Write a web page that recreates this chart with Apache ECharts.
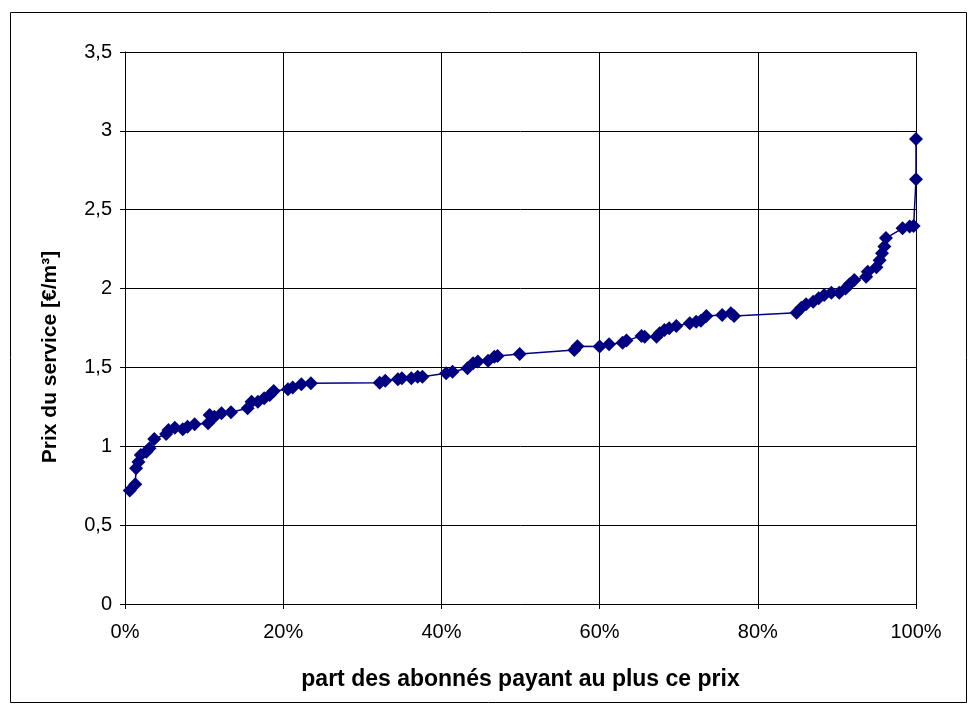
<!DOCTYPE html>
<html>
<head>
<meta charset="utf-8">
<title>Prix du service</title>
<script src="https://cdn.jsdelivr.net/npm/echarts@6/dist/echarts.min.js"></script>
<style>
  html, body { margin: 0; padding: 0; background: #fff; }
  #chart { width: 973px; height: 713px; }
</style>
</head>
<body>
<div id="chart"></div>
<script>
// part des abonnés (%) et prix du service (€/m³)
const share = [
  0.6, 1.3, 1.4, 1.7, 2.0, 2.7, 3.1, 3.7, 5.2, 5.5, 6.3, 7.3, 7.9, 8.8,
  10.5, 10.7, 11.3, 12.2, 13.4, 15.5, 16.0, 16.8, 17.6, 18.3, 18.8,
  20.6, 21.2, 22.3, 23.5,
  32.2, 32.9, 34.5, 35.0, 36.2, 37.0, 37.6, 40.6, 41.4, 43.3, 44.0,
  44.6, 45.9, 46.7, 47.1, 49.9,
  56.8, 57.2, 60.0, 61.2, 62.9, 63.4, 65.3, 65.7, 67.2, 67.6, 68.2,
  68.8, 69.7, 71.4, 72.2, 72.8, 73.5, 75.5, 76.6, 77.0,
  84.9, 85.5, 86.1, 87.0, 87.7, 88.4, 89.3, 90.3, 91.1, 91.6, 92.2,
  93.7, 93.9, 95.0, 95.4, 95.7, 96.0, 96.2, 98.3, 99.2, 99.7, 100, 100
];
const price = [
  0.72, 0.76, 0.86, 0.90, 0.945, 0.966, 0.987, 1.046, 1.078, 1.103, 1.118, 1.108, 1.124, 1.14,
  1.146, 1.198, 1.188, 1.209, 1.216, 1.241, 1.283, 1.283, 1.304, 1.325, 1.351,
  1.361, 1.372, 1.393, 1.40,
  1.403, 1.416, 1.425, 1.431, 1.431, 1.441, 1.441, 1.463, 1.473, 1.495, 1.526,
  1.537, 1.543, 1.568, 1.573, 1.585,
  1.61, 1.635, 1.632, 1.647, 1.657, 1.67, 1.70, 1.695, 1.695, 1.716, 1.737,
  1.748, 1.763, 1.78, 1.79, 1.796, 1.826, 1.833, 1.843, 1.826,
  1.847, 1.879, 1.90, 1.917, 1.938, 1.959, 1.974, 1.974, 2.00, 2.027, 2.055,
  2.075, 2.107, 2.135, 2.18, 2.224, 2.266, 2.32, 2.382, 2.393, 2.397, 2.693, 2.949
];
const priceTicks = ['0', '0,5', '1', '1,5', '2', '2,5', '3', '3,5'];

const points = share.map((s, i) => [s / 100, price[i]]);

const myChart = echarts.init(document.getElementById('chart'));
myChart.setOption({
  animation: false,
  textStyle: { fontFamily: '"Liberation Sans", Arial, sans-serif', color: '#000' },
  graphic: [{
    type: 'rect',
    shape: { x: 10.5, y: 12.5, width: 956, height: 690 },
    style: { fill: 'none', stroke: '#000', lineWidth: 1 }
  }],
  grid: { left: 125, right: 57, top: 52, bottom: 109 },
  xAxis: {
    type: 'value',
    min: 0, max: 1, interval: 0.2,
    name: 'part des abonnés payant au plus ce prix',
    nameLocation: 'middle',
    nameGap: 64,
    nameTextStyle: { fontSize: 23, fontWeight: 'bold', color: '#000' },
    axisLine: { show: true, lineStyle: { color: '#000' } },
    axisTick: { show: true, length: 5, lineStyle: { color: '#000' } },
    axisLabel: {
      fontSize: 20, color: '#000', margin: 18,
      formatter: v => Math.round(v * 100) + '%'
    },
    splitLine: { show: true, lineStyle: { color: '#000', width: 1 } }
  },
  yAxis: {
    type: 'value',
    min: 0, max: 3.5, interval: 0.5,
    name: 'Prix du service [€/m³]',
    nameLocation: 'middle',
    nameGap: 64,
    nameRotate: 90,
    // décalé vers le bas comme dans l'original
    nameTextStyle: { fontSize: 21, fontWeight: 'bold', color: '#000', padding: [0, 58, 0, 0] },
    axisLine: { show: true, lineStyle: { color: '#000' } },
    axisTick: { show: true, length: 5, lineStyle: { color: '#000' } },
    axisLabel: {
      fontSize: 20, color: '#000', margin: 13,
      formatter: (v, i) => priceTicks[i]
    },
    splitLine: { show: true, lineStyle: { color: '#000', width: 1 } }
  },
  series: [{
    type: 'line',
    data: points,
    symbol: 'diamond',
    symbolSize: 14,
    lineStyle: { color: '#000080', width: 1.5 },
    itemStyle: { color: '#000080' }
  }]
});
</script>
</body>
</html>
